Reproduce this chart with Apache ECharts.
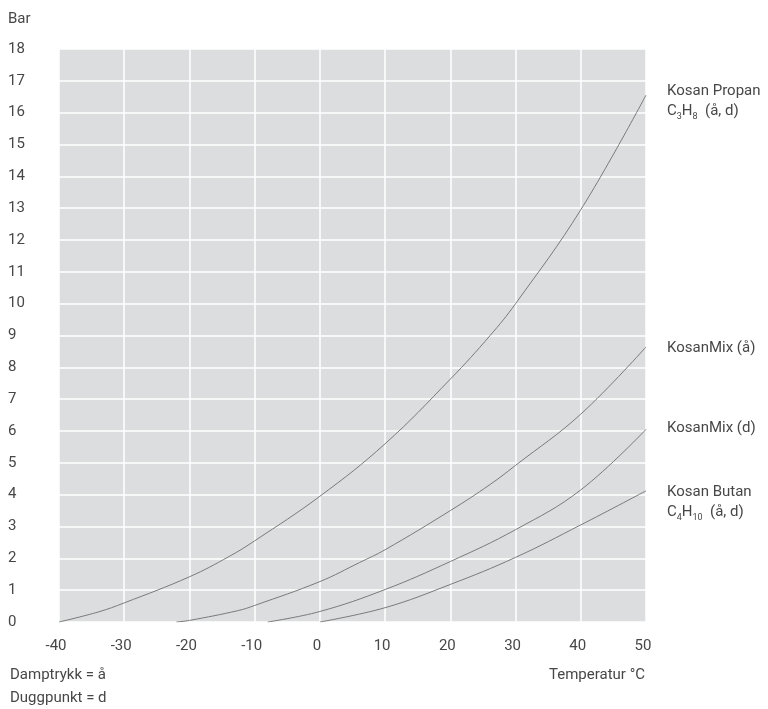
<!DOCTYPE html>
<html><head><meta charset="utf-8">
<script src="https://cdn.jsdelivr.net/npm/echarts@6/dist/echarts.min.js"></script>
<style>html,body{margin:0;padding:0;background:#fff}#c{width:768px;height:709px}</style>
</head><body><div id="c"></div>
<script>
// Temperature (°C) and vapour pressure (bar)
const propanT = [-40, -33.9, -30, -20, -13.9, -10, 0, 10, 20, 26.1, 30, 40, 50];
const propanP = [0, 0.32, 0.6, 1.42, 2.06, 2.55, 3.95, 5.6, 7.63, 9.0, 10.0, 12.95, 16.55];
const mixAT = [-22, -20, -12.5, -10, 0, 6.1, 10, 20, 26.1, 30, 40, 50];
const mixAP = [0, 0.05, 0.36, 0.52, 1.27, 1.87, 2.27, 3.5, 4.32, 4.92, 6.53, 8.64];
const mixDT = [-8, 0, 10, 20, 30, 40, 50];
const mixDP = [0, 0.33, 1.02, 1.9, 2.9, 4.15, 6.05];
const butanT = [0, 10, 20, 30, 40, 50];
const butanP = [0, 0.45, 1.18, 2.03, 3.05, 4.12];
const xTicks = [-40, -30, -20, -10, 0, 10, 20, 30, 40, 50];
const yMax = 18;

const font = 'Roboto';
const txtColor = '#474747';
const zip = (a, b) => a.map((v, i) => [v, b[i]]);
const lineSeries = (t, p) => ({
  type: 'line', data: zip(t, p), smooth: 0.4, symbol: 'none',
  lineStyle: { color: '#7a7a7a', width: 1 }, silent: true
});

const chart = echarts.init(document.getElementById('c'));
chart.setOption({
  animation: false,
  grid: { left: 59, right: 122, top: 49, bottom: 87, show: true, backgroundColor: '#dcdddf', borderWidth: 0 },
  xAxis: {
    type: 'value', min: xTicks[0], max: xTicks[xTicks.length - 1], interval: 10,
    axisLine: { show: false }, axisTick: { show: false },
    splitLine: { show: true, lineStyle: { color: '#ffffff', width: 1.5 } },
    axisLabel: { color: txtColor, fontFamily: font, fontSize: 15, margin: 17, padding: [0, 6, 0, 0] }
  },
  yAxis: {
    type: 'value', min: 0, max: yMax, interval: 1,
    axisLine: { show: false }, axisTick: { show: false },
    splitLine: { show: true, lineStyle: { color: '#ffffff', width: 1.5 } },
    axisLabel: { color: txtColor, fontFamily: font, fontSize: 15, align: 'left', margin: 51 }
  },
  series: [
    lineSeries(propanT, propanP),
    lineSeries(mixAT, mixAP),
    lineSeries(mixDT, mixDP),
    lineSeries(butanT, butanP)
  ],
  graphic: [
    { type: 'text', left: 8, top: 12, style: { text: 'Bar', fill: txtColor, font: '15px ' + font } },
    { type: 'text', left: 667, top: 84, style: { text: 'Kosan Propan', fill: txtColor, font: '15px ' + font } },
    { type: 'text', left: 667, top: 104, style: { text: 'C{s|3}H{s|8}  (å, d)', fill: txtColor, font: '15px ' + font,
        rich: { s: { fontSize: 9, fontFamily: font, fill: txtColor, padding: [10, 0, 0, 0] } } } },
    { type: 'text', left: 667, top: 341, style: { text: 'KosanMix (å)', fill: txtColor, font: '15px ' + font } },
    { type: 'text', left: 667, top: 421, style: { text: 'KosanMix (d)', fill: txtColor, font: '15px ' + font } },
    { type: 'text', left: 667, top: 485, style: { text: 'Kosan Butan', fill: txtColor, font: '15px ' + font } },
    { type: 'text', left: 667, top: 505, style: { text: 'C{s|4}H{s|10}  (å, d)', fill: txtColor, font: '15px ' + font,
        rich: { s: { fontSize: 9, fontFamily: font, fill: txtColor, padding: [10, 0, 0, 0] } } } },
    { type: 'text', left: 549, top: 668, style: { text: 'Temperatur °C', fill: txtColor, font: '15px ' + font } },
    { type: 'text', left: 10, top: 668, style: { text: 'Damptrykk = å', fill: txtColor, font: '15px ' + font } },
    { type: 'text', left: 10, top: 691, style: { text: 'Duggpunkt = d', fill: txtColor, font: '15px ' + font } }
  ]
});
</script></body></html>
